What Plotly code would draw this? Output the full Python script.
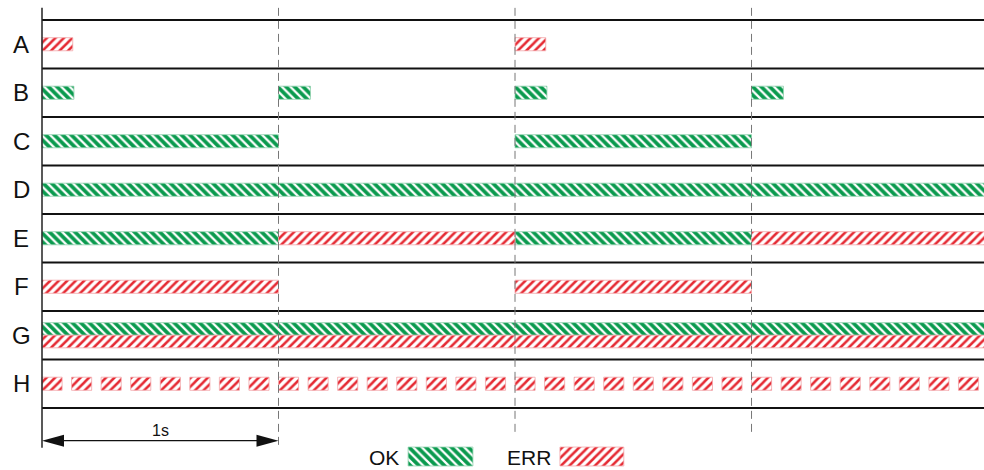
import plotly.graph_objects as go

# rows top to bottom, time in seconds
rows = ["A", "B", "C", "D", "E", "F", "G", "H"]

ok_row = ["B", "B", "B", "B", "C", "C", "D", "E", "E", "G"]
ok_start = [0, 1, 2, 3, 0, 2, 0, 0, 2, 0]
ok_end = [0.135, 1.135, 2.135, 3.135, 1, 3, 4, 1, 3, 4]

err_row = ["A", "A", "E", "E", "F", "F", "G"]
err_start = [0, 2, 1, 3, 0, 2, 0]
err_end = [0.13, 2.13, 2, 4, 1, 3, 4]

# row H: fast blinking ERR
blink_start = [0, 0.125, 0.25, 0.375, 0.5, 0.625, 0.75, 0.875,
               1, 1.125, 1.25, 1.375, 1.5, 1.625, 1.75, 1.875,
               2, 2.125, 2.25, 2.375, 2.5, 2.625, 2.75, 2.875,
               3, 3.125, 3.25, 3.375, 3.5, 3.625, 3.75, 3.875]
blink_len = 0.085

seconds = [1, 2, 3]

GREEN = "#0a9a4e"
RED = "#e52a33"

ok_pattern = dict(shape="\\", fgcolor="white", bgcolor=GREEN, size=6, solidity=0.38, fillmode="replace")
err_pattern = dict(shape="/", fgcolor=RED, bgcolor="white", size=6, solidity=0.42, fillmode="replace")


def row_y(r, kind):
    y = rows.index(r)
    if r == "G":
        return y - 0.13 if kind == "ok" else y + 0.13
    return y


def row_w(r):
    return 0.26 if r == "G" else 0.27


fig = go.Figure()

fig.add_trace(go.Bar(
    orientation="h",
    y=[row_y(r, "ok") for r in ok_row],
    base=ok_start,
    x=[e - s for s, e in zip(ok_start, ok_end)],
    width=[row_w(r) for r in ok_row],
    marker=dict(color=GREEN, pattern=ok_pattern, line=dict(color="#8fd0ad", width=0.8)),
    showlegend=False, hoverinfo="skip"))

fig.add_trace(go.Bar(
    orientation="h",
    y=[row_y(r, "err") for r in err_row] + [rows.index("H")] * len(blink_start),
    base=err_start + blink_start,
    x=[e - s for s, e in zip(err_start, err_end)] + [blink_len] * len(blink_start),
    width=[row_w(r) for r in err_row] + [0.27] * len(blink_start),
    marker=dict(color="white", pattern=err_pattern, line=dict(color="#f2a5a8", width=0.8)),
    showlegend=False, hoverinfo="skip"))

# legend swatches sit in the same axes, under the rows
fig.add_trace(go.Bar(orientation="h", y=[8.5], base=[1.548], x=[0.274], width=[0.39],
                     marker=dict(color=GREEN, pattern=ok_pattern, line=dict(color="#8fd0ad", width=0.8)),
                     showlegend=False, hoverinfo="skip"))
fig.add_trace(go.Bar(orientation="h", y=[8.5], base=[2.19], x=[0.27], width=[0.39],
                     marker=dict(color="white", pattern=err_pattern, line=dict(color="#f2a5a8", width=0.8)),
                     showlegend=False, hoverinfo="skip"))

shapes = []
# row separators
for i in range(len(rows) + 1):
    shapes.append(dict(type="line", x0=0, x1=4.2, y0=i - 0.5, y1=i - 0.5,
                       line=dict(color="#111111", width=1.8)))
# time axis
shapes.append(dict(type="line", x0=0, x1=0, y0=-0.75, y1=8.32, line=dict(color="#222222", width=1.5)))
# one-second markers
for s in seconds:
    shapes.append(dict(type="line", x0=s, x1=s, y0=-0.75, y1=8.32 if s == 1 else 8.06,
                       line=dict(color="#777777", width=1, dash="8px,5px")))
# dimension arrow
ya = 8.174
shapes.append(dict(type="line", x0=0.05, x1=0.95, y0=ya, y1=ya, line=dict(color="#111111", width=1.2)))
shapes.append(dict(type="path", path=f"M 0 {ya} L 0.093 {ya - 0.125} L 0.093 {ya + 0.125} Z",
                   fillcolor="#111111", line=dict(width=0)))
shapes.append(dict(type="path", path=f"M 1 {ya} L 0.907 {ya - 0.125} L 0.907 {ya + 0.125} Z",
                   fillcolor="#111111", line=dict(width=0)))

annotations = []
for i, r in enumerate(rows):
    annotations.append(dict(x=-0.087, y=i, text=r, showarrow=False,
                            font=dict(size=24, color="#111111")))
annotations.append(dict(x=0.5, y=7.97, text="1s", showarrow=False, font=dict(size=16, color="#111111")))
annotations.append(dict(x=1.446, y=8.52, text="OK", showarrow=False, font=dict(size=21, color="#111111")))
annotations.append(dict(x=2.058, y=8.52, text="ERR", showarrow=False, font=dict(size=21, color="#111111")))

fig.update_layout(
    width=984, height=470,
    margin=dict(l=0, r=0, t=0, b=0),
    paper_bgcolor="white", plot_bgcolor="white",
    barmode="overlay",
    font=dict(family="Liberation Sans, Arial, sans-serif"),
    shapes=shapes, annotations=annotations,
)
fig.update_xaxes(range=[-0.1776, 3.983], visible=False, fixedrange=True)
fig.update_yaxes(range=[8.778, -0.912], visible=False, fixedrange=True)

# the page body has a default 8px margin; drop it so the figure fills the window
fig.write_html("out.html", config={"displayModeBar": False},
               post_script="document.body.style.margin='0';")
